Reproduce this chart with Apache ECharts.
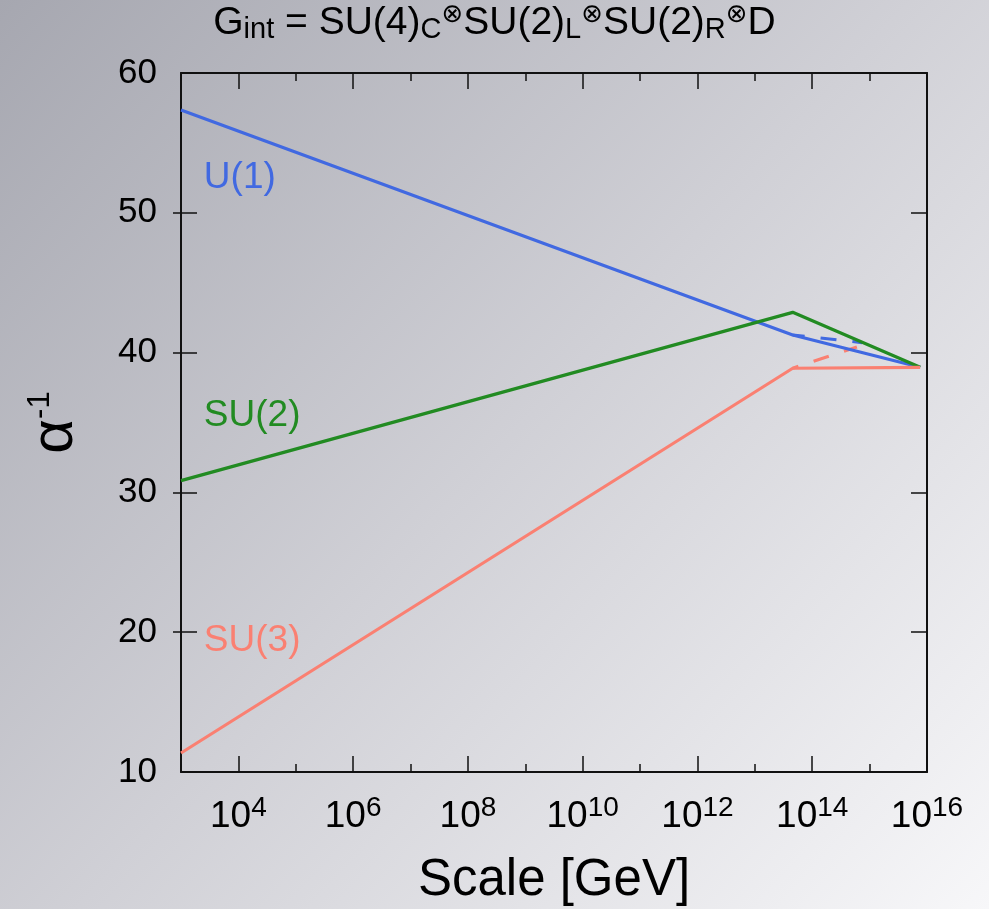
<!DOCTYPE html>
<html>
<head>
<meta charset="utf-8">
<script src="https://cdn.jsdelivr.net/npm/echarts@6/dist/echarts.min.js"></script>
<style>html,body{margin:0;padding:0;}#c{width:989px;height:909px;}</style>
</head>
<body>
<div id="c"></div>
<script>
// ---- data ----
const scaleGeV = [1e3, 4.57e13, 7.6e15];
const u1 = [57.35, 41.26, 38.95];
const su2 = [30.84, 42.88, 38.95];
const su3 = [11.36, 38.88, 38.95];
const u1DashScale = [4.57e13, 7.4e14];
const u1Dash = [41.26, 40.72];
const su3DashScale = [4.57e13, 6.0e14];
const su3Dash = [38.88, 40.40];
const decadeExponents = ['3','4','5','6','7','8','9','10','11','12','13','14','15','16'];
const yTickValues = ['10','20','30','40','50','60'];
const seriesNames = ['U(1)', 'SU(2)', 'SU(3)'];

const FONT = '"Liberation Sans", Arial, Helvetica, sans-serif';
const BLUE = '#4169e1', GREEN = '#228b22', SALMON = '#fa8072';
const FRAME = { color: '#111', width: 2 };
const TICK = { color: '#111', width: 1.5 };

const pairs = (xs, ys) => xs.map((x, i) => [x, ys[i]]);
const isEven = (i) => Number(decadeExponents[i]) % 2 === 0;
const isOdd = (i) => Number(decadeExponents[i]) % 2 === 1;

const chart = echarts.init(document.getElementById('c'), null, { renderer: 'canvas' });

function tickAxis(position, length, intervalFn, withLabels, withLine) {
  return {
    type: 'category', data: decadeExponents, boundaryGap: false, position: position,
    axisLine: { show: !!withLine, onZero: false, lineStyle: FRAME },
    axisTick: { show: true, inside: true, length: length, interval: intervalFn, lineStyle: TICK },
    axisLabel: withLabels ? {
      show: true, interval: intervalFn, margin: 22,
      formatter: (v) => '{b|10}{s|' + v + '}',
      rich: {
        b: { fontSize: 37, lineHeight: 46, color: '#000', fontFamily: FONT },
        s: { fontSize: 28, lineHeight: 20, verticalAlign: 'top', color: '#000', fontFamily: FONT }
      }
    } : { show: false },
    splitLine: { show: false }
  };
}

function labelPoint(coord, text, color) {
  return {
    symbol: 'circle', symbolSize: 0, silent: true, animation: false,
    label: { show: true, position: 'right', distance: 0, formatter: text,
             fontSize: 37, color: color, fontFamily: FONT },
    data: [{ coord: coord }]
  };
}

const option = {
  animation: false,
  backgroundColor: {
    type: 'linear', x: 0, y: 0, x2: 1, y2: 1,
    colorStops: [{ offset: 0, color: '#a6a7b0' }, { offset: 0.5, color: '#d0d0d6' }, { offset: 1, color: '#f7f7f9' }]
  },
  title: {
    text: '{m|G}{s|int}{m| = SU(4)}{s|C}{o|⊗}{m|SU(2)}{s|L}{o|⊗}{m|SU(2)}{s|R}{o|⊗}{m|D}',
    left: 'center', top: 2, padding: 0,
    textStyle: {
      fontWeight: 'normal',
      rich: {
        m: { fontSize: 39, lineHeight: 42, fontWeight: 'normal', color: '#000', fontFamily: FONT },
        s: { fontSize: 29, lineHeight: 16, fontWeight: 'normal', verticalAlign: 'bottom', color: '#000', fontFamily: FONT },
        o: { fontSize: 26, lineHeight: 31, fontWeight: 'normal', verticalAlign: 'top', color: '#000', fontFamily: '"DejaVu Sans", sans-serif' }
      }
    }
  },
  grid: { left: 181, top: 73, width: 746, height: 699, containLabel: false, outerBoundsMode: 'none' },
  xAxis: [
    {
      type: 'log', logBase: 10, min: 1e3, max: 1e16, position: 'bottom',
      axisLine: { show: true, onZero: false, lineStyle: FRAME },
      axisTick: { show: false }, axisLabel: { show: false },
      splitLine: { show: false }, minorTick: { show: false }, minorSplitLine: { show: false },
      name: 'Scale [GeV]', nameLocation: 'middle', nameGap: 84,
      nameTextStyle: { fontSize: 51, lineHeight: 50, color: '#000', fontFamily: FONT }
    },
    tickAxis('bottom', 16, isEven, true, false),
    tickAxis('bottom', 8, isOdd, false, false),
    tickAxis('top', 16, isEven, false, true),
    tickAxis('top', 8, isOdd, false, false)
  ],
  yAxis: [
    {
      type: 'value', min: 10, max: 60, interval: 10, position: 'left',
      axisLine: { show: true, onZero: false, lineStyle: FRAME },
      axisTick: { show: true, inside: true, length: 16, lineStyle: TICK },
      axisLabel: { margin: 24, fontSize: 35, color: '#000', fontFamily: FONT },
      splitLine: { show: false },
      name: '{a|α}{s|-1}', nameLocation: 'middle', nameRotate: 90, nameGap: 96,
      nameTextStyle: {
        rich: {
          a: { fontSize: 60, lineHeight: 60, color: '#000', fontFamily: FONT },
          s: { fontSize: 31, lineHeight: 31, verticalAlign: 'top', color: '#000', fontFamily: FONT }
        }
      }
    },
    {
      type: 'category', data: yTickValues, boundaryGap: false, position: 'left',
      axisLine: { show: false, onZero: false },
      axisTick: { show: true, inside: false, length: 8, lineStyle: TICK,
                  interval: (i) => i > 0 && i < yTickValues.length - 1 },
      axisLabel: { show: false }, splitLine: { show: false }
    },
    {
      type: 'value', min: 10, max: 60, interval: 10, position: 'right',
      axisLine: { show: true, onZero: false, lineStyle: FRAME },
      axisTick: { show: true, inside: true, length: 16, lineStyle: TICK },
      axisLabel: { show: false }, splitLine: { show: false }
    }
  ],
  series: [
    { name: seriesNames[0] + ' dashed', type: 'line', xAxisIndex: 0, yAxisIndex: 0, symbol: 'none',
      data: pairs(u1DashScale, u1Dash),
      lineStyle: { color: BLUE, width: 3.2, type: [16, 16], dashOffset: 4 } },
    { name: seriesNames[2] + ' dashed', type: 'line', xAxisIndex: 0, yAxisIndex: 0, symbol: 'none',
      data: pairs(su3DashScale, su3Dash),
      lineStyle: { color: SALMON, width: 3.2, type: [16, 16], dashOffset: 10 } },
    { name: seriesNames[0], type: 'line', xAxisIndex: 0, yAxisIndex: 0, symbol: 'none',
      data: pairs(scaleGeV, u1), lineStyle: { color: BLUE, width: 3.2 },
      markPoint: labelPoint([2500, 52.5], seriesNames[0], BLUE) },
    { name: seriesNames[1], type: 'line', xAxisIndex: 0, yAxisIndex: 0, symbol: 'none',
      data: pairs(scaleGeV, su2), lineStyle: { color: GREEN, width: 3.2 },
      markPoint: labelPoint([2500, 35.5], seriesNames[1], GREEN) },
    { name: seriesNames[2], type: 'line', xAxisIndex: 0, yAxisIndex: 0, symbol: 'none',
      data: pairs(scaleGeV, su3), lineStyle: { color: SALMON, width: 3.2 },
      markPoint: labelPoint([2500, 19.4], seriesNames[2], SALMON) }
  ]
};
chart.setOption(option);
</script>
</body>
</html>
